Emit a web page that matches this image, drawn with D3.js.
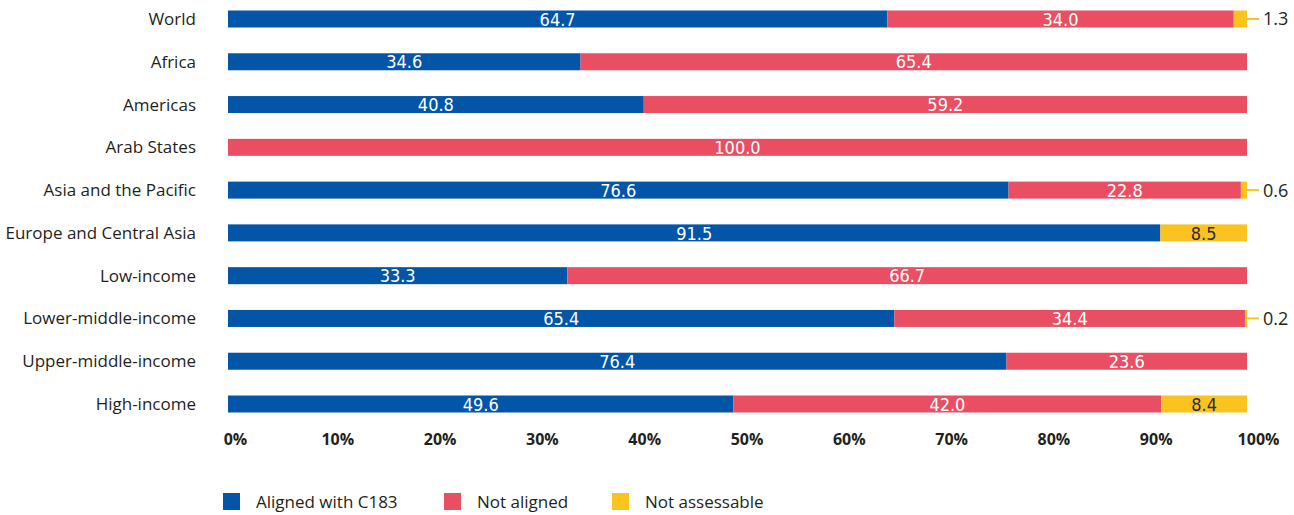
<!DOCTYPE html>
<html>
<head>
<meta charset="utf-8">
<script src="https://cdn.jsdelivr.net/npm/d3@7"></script>
<style>
  html, body { margin: 0; padding: 0; background: #ffffff; }
  svg { display: block; }
</style>
</head>
<body>
<svg id="chart" width="1294" height="515"></svg>
<script>
// Regions and income groups, top to bottom
const categories = [
  "World", "Africa", "Americas", "Arab States", "Asia and the Pacific",
  "Europe and Central Asia", "Low-income", "Lower-middle-income",
  "Upper-middle-income", "High-income"
];
// Share of countries (%) in each status
const aligned       = [64.7, 34.6, 40.8, 0,     76.6, 91.5, 33.3, 65.4, 76.4, 49.6];
const notAligned    = [34.0, 65.4, 59.2, 100.0, 22.8, 0,    66.7, 34.4, 23.6, 42.0];
const notAssessable = [1.3,  0,    0,    0,     0.6,  8.5,  0,    0.2,  0,    8.4];

const seriesNames = ["Aligned with C183", "Not aligned", "Not assessable"];
const tickValues = [0, 10, 20, 30, 40, 50, 60, 70, 80, 90, 100];

const colors = ["#0355a7", "#e94e63", "#fbc31f"];
const labelColors = ["#ffffff", "#ffffff", "#2a2a4a"];

const rows = categories.map((c, i) => ({
  category: c,
  values: [aligned[i], notAligned[i], notAssessable[i]]
}));

const svg = d3.select("#chart");

const x = d3.scaleLinear().domain([0, 100]).range([228, 1247]);
const y = d3.scalePoint().domain(categories).range([19, 404]);
const barH = 17;

// Category labels
svg.append("g")
  .selectAll("text")
  .data(categories)
  .join("text")
  .attr("x", 196)
  .attr("y", d => y(d))
  .attr("dy", "0.35em")
  .attr("text-anchor", "end")
  .attr("font-family", "'Open Sans', sans-serif")
  .attr("font-size", 17)
  .attr("fill", "#231f20")
  .text(d => d);

// Stacked segments
const segs = [];
rows.forEach(r => {
  let acc = 0;
  r.values.forEach((v, k) => {
    segs.push({ category: r.category, k, v, x0: acc, x1: acc + v });
    acc += v;
  });
});

const barsG = svg.append("g");
barsG.selectAll("rect")
  .data(segs.filter(s => s.v > 0))
  .join("rect")
  .attr("x", d => x(d.x0))
  .attr("y", d => y(d.category) - barH / 2)
  .attr("width", d => x(d.x1) - x(d.x0))
  .attr("height", barH)
  .attr("fill", d => colors[d.k]);

// Values inside wide segments
const inside = segs.filter(s => s.v >= 3);
barsG.selectAll("text.inside")
  .data(inside)
  .join("text")
  .attr("class", "inside")
  .attr("x", d => (x(d.x0) + x(d.x1)) / 2)
  .attr("y", d => y(d.category))
  .attr("dy", "0.37em")
  .attr("text-anchor", "middle")
  .attr("font-family", "'Liberation Sans Narrow', 'DejaVu Sans Condensed', sans-serif")
  .attr("font-size", 18)
  .attr("fill", d => labelColors[d.k])
  .text(d => d.v.toFixed(1));

// Values for thin segments, with a leader line
const outside = segs.filter(s => s.v > 0 && s.v < 3);
const leaderG = barsG.selectAll("g.leader")
  .data(outside)
  .join("g")
  .attr("class", "leader");
leaderG.append("line")
  .attr("x1", d => x(d.x1))
  .attr("x2", d => x(d.x1) + 12)
  .attr("y1", d => y(d.category))
  .attr("y2", d => y(d.category))
  .attr("stroke", colors[2])
  .attr("stroke-width", 2);
leaderG.append("text")
  .attr("x", d => x(d.x1) + 16)
  .attr("y", d => y(d.category))
  .attr("dy", "0.36em")
  .attr("font-family", "'Open Sans', sans-serif")
  .attr("font-size", 18)
  .attr("fill", "#231f20")
  .text(d => d.v.toFixed(1));

// Percentage axis (labels only)
const xLabels = x.copy().range([235, 1258]);
const axis = svg.append("g")
  .attr("transform", "translate(0,434)")
  .call(d3.axisBottom(xLabels).tickValues(tickValues).tickSize(0).tickPadding(0).tickFormat(d => d + "%"));
axis.select(".domain").remove();
axis.selectAll("text")
  .attr("font-family", "'Open Sans', sans-serif")
  .attr("font-weight", 700)
  .attr("font-size", 16)
  .attr("fill", "#231f20");

// Legend
const legendX = [223, 444, 612];
const legend = svg.append("g")
  .selectAll("g")
  .data(seriesNames)
  .join("g")
  .attr("transform", (d, i) => `translate(${legendX[i]},493)`);
legend.append("rect")
  .attr("width", 17)
  .attr("height", 17)
  .attr("fill", (d, i) => colors[i]);
legend.append("text")
  .attr("x", 33)
  .attr("y", 9)
  .attr("dy", "0.36em")
  .attr("font-family", "'Open Sans', sans-serif")
  .attr("font-size", 17)
  .attr("fill", "#231f20")
  .text(d => d);
</script>
</body>
</html>
